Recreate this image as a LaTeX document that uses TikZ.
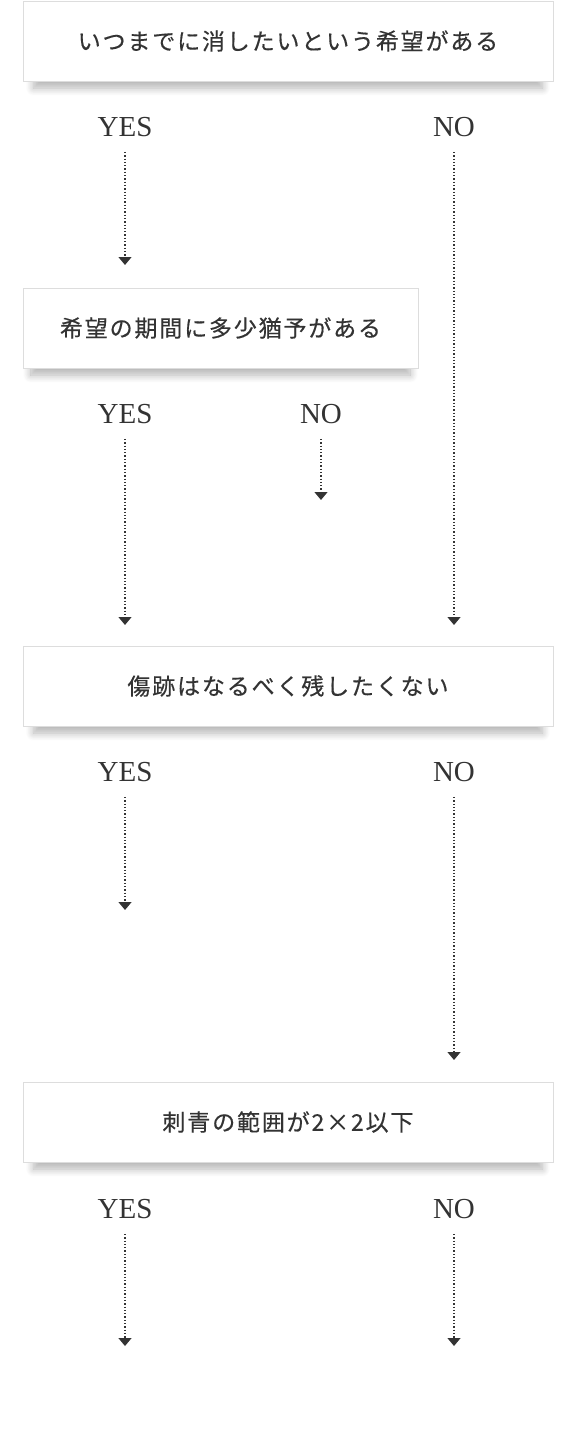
\documentclass[tikz,border=0pt]{standalone}
\usepackage{fontspec}
\setmainfont{Liberation Serif}
\newfontfamily\jpfont[LetterSpace=8,FakeBold=0.4]{Noto Sans CJK JP}
\usetikzlibrary{arrows.meta,shadows.blur}
\definecolor{inkgray}{HTML}{333333}
\definecolor{framegray}{HTML}{DDDDDD}
\tikzset{
	question/.style={draw=framegray,fill=white,minimum height=80pt,text=inkgray,font=\jpfont\fontsize{23}{23}\selectfont,
		blur shadow={shadow xshift=0pt,shadow yshift=-9pt,shadow scale=0.96,shadow blur steps=12,shadow blur radius=8pt,shadow opacity=30}},
	answer/.style={text=inkgray,inner sep=0pt,font=\fontsize{29}{29}\selectfont},
	flow/.style={inkgray,line width=1.3pt,dash pattern=on 1.3pt off 2pt,shorten <=15pt,-{Triangle[width=13pt,length=8pt]}}
}
\begin{document}
\begin{tikzpicture}[x=1pt,y=-1pt]
	   \useasboundingbox (0,0) rectangle (580,1436);
	   \node [question,minimum width=530pt] (q1) at (288,41) {いつまでに消したいという希望がある};
	   \node [answer] (yes1) at (125,127) {YES};
	   \node [answer] (no1) at (454,127) {NO};
	   \coordinate (yes1end) at (125,265);
	   \coordinate (no1end) at (454,625);
	   \draw [flow] (yes1.south) -- (yes1end);
	   \draw [flow] (no1.south) -- (no1end);
	   \node [question,minimum width=395pt] (q2) at (220.5,328) {希望の期間に多少猶予がある};
	   \node [answer] (yes2) at (125,414) {YES};
	   \node [answer] (no2) at (321,414) {NO};
	   \coordinate (yes2end) at (125,625);
	   \coordinate (no2end) at (321,500);
	   \draw [flow] (yes2.south) -- (yes2end);
	   \draw [flow] (no2.south) -- (no2end);
	   \node [question,minimum width=530pt] (q3) at (288,686) {傷跡はなるべく残したくない};
	   \node [answer] (yes3) at (125,772) {YES};
	   \node [answer] (no3) at (454,772) {NO};
	   \coordinate (yes3end) at (125,910);
	   \coordinate (no3end) at (454,1060);
	   \draw [flow] (yes3.south) -- (yes3end);
	   \draw [flow] (no3.south) -- (no3end);
	   \node [question,minimum width=530pt] (q4) at (288,1122) {刺青の範囲が2×2以下};
	   \node [answer] (yes4) at (125,1209) {YES};
	   \node [answer] (no4) at (454,1209) {NO};
	   \coordinate (yes4end) at (125,1346);
	   \coordinate (no4end) at (454,1346);
	   \draw [flow] (yes4.south) -- (yes4end);
	   \draw [flow] (no4.south) -- (no4end);
\end{tikzpicture}
\end{document}
